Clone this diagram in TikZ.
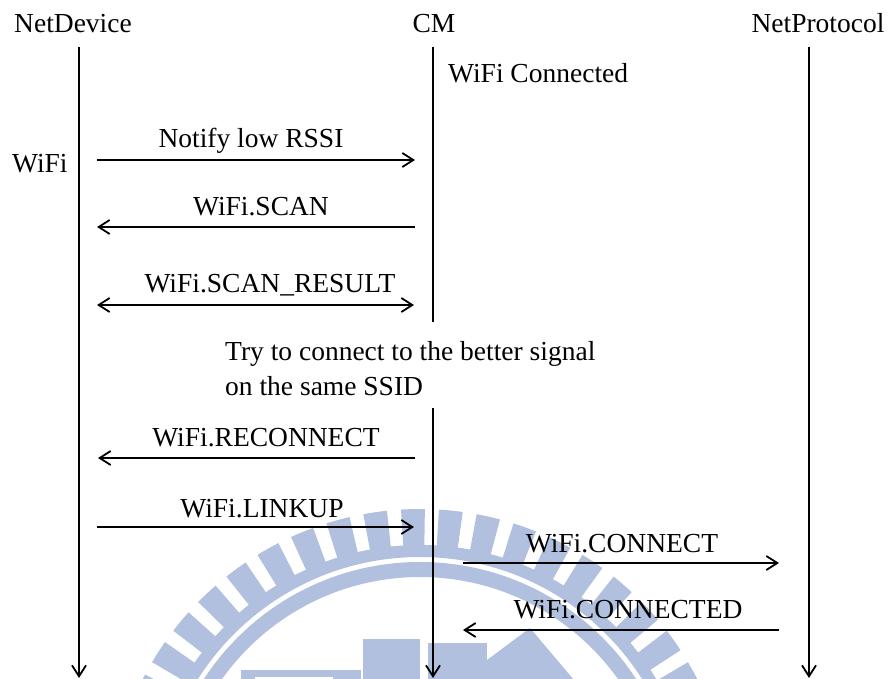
\documentclass[tikz,border=0pt]{standalone}
\usepackage{fontspec}
\setmainfont{Liberation Serif}
\usetikzlibrary{arrows.meta}
\definecolor{wmblue}{RGB}{176,192,222}
\begin{document}
\begin{tikzpicture}[x=1pt,y=1pt,
  barb/.tip={Straight Barb[length=11pt,width=14pt,line width=1.8pt]},
  life/.style={line width=1.8pt},
  lifeend/.style={line width=1.8pt,-barb},
  msg/.style={line width=2.3pt,-barb},
  msgboth/.style={line width=2.3pt,barb-barb},
  lbl/.style={inner sep=0pt,anchor=base,font=\fontsize{27.5}{33}\selectfont},
  lbll/.style={lbl,anchor=base west}]

\useasboundingbox (0,0) rectangle (891,-679);
\fill[white] (0,0) rectangle (891,-679);

% faint seal in the lower part of the page
\begin{scope}
  \clip (0,0) rectangle (891,-679);
  \begin{scope}[shift={(420,-820)}]
    \foreach \k in {-14,...,15}{
      \pgfmathsetmacro{\t}{91.3+7*\k}
      \fill[wmblue] ({\t-2.2}:274) arc[start angle={\t-2.2},end angle={\t+2.2},radius=274]
        -- ({\t+2.2}:311) arc[start angle={\t+2.2},end angle={\t-2.2},radius=311] -- cycle;
    }
    \fill[wmblue,even odd rule] (0,0) circle[radius=275] (0,0) circle[radius=263];
    \fill[wmblue,even odd rule] (0,0) circle[radius=258] (0,0) circle[radius=243];
  \end{scope}
  \fill[wmblue] (241,-670) rectangle (361,-680);
  \fill[white] (255,-677) rectangle (333,-681);
  \fill[wmblue] (363,-639) rectangle (420,-680);
  \fill[wmblue] (428,-643) rectangle (487,-680);
  \fill[wmblue] (487,-680) -- (487,-660) -- (530,-628) -- (574,-680) -- cycle;
\end{scope}

% participants
\node[lbl] (hnd) at (73,-33) {NetDevice};
\node[lbl] (hcm) at (434,-33) {CM};
\node[lbl] (hnp) at (818,-33) {NetProtocol};

% lifelines
\coordinate (ndtop) at (79,-47);
\coordinate (ndbot) at (79,-678);
\coordinate (cmtop) at (433,-47);
\coordinate (cmbrka) at (433,-322);
\coordinate (cmbrkb) at (433,-408);
\coordinate (cmbot) at (433,-678);
\coordinate (nptop) at (809,-47);
\coordinate (npbot) at (809,-678);
\draw[lifeend] (ndtop) -- (ndbot);
\draw[life] (cmtop) -- (cmbrka);
\draw[lifeend] (cmbrkb) -- (cmbot);
\draw[lifeend] (nptop) -- (npbot);

% notes
\node[lbll] (conn) at (448,-83) {WiFi Connected};
\node[lbll] (wifi) at (12,-173) {WiFi};
\node[lbll] (trya) at (225,-360) {Try to connect to the better signal};
\node[lbll] (tryb) at (225,-395) {on the same SSID};

% messages
\coordinate (m1a) at (97,-160);  \coordinate (m1b) at (415,-160);
\coordinate (m2a) at (415,-227); \coordinate (m2b) at (97,-227);
\coordinate (m3a) at (97,-305);  \coordinate (m3b) at (414,-305);
\coordinate (m4a) at (415,-458); \coordinate (m4b) at (98,-458);
\coordinate (m5a) at (97,-527);  \coordinate (m5b) at (414,-527);
\coordinate (m6a) at (463,-563); \coordinate (m6b) at (779,-563);
\coordinate (m7a) at (779,-630); \coordinate (m7b) at (463,-630);

\draw[msg] (m1a) -- (m1b);
\draw[msg] (m2a) -- (m2b);
\draw[msgboth] (m3a) -- (m3b);
\draw[msg] (m4a) -- (m4b);
\draw[msg] (m5a) -- (m5b);
\draw[msg] (m6a) -- (m6b);
\draw[msg] (m7a) -- (m7b);

\node[lbl] (l1) at (251,-148) {Notify low RSSI};
\node[lbl] (l2) at (261,-215) {WiFi.SCAN};
\node[lbl] (l3) at (270,-292) {WiFi.SCAN\_RESULT};
\node[lbl] (l4) at (266,-446) {WiFi.RECONNECT};
\node[lbl] (l5) at (262,-517) {WiFi.LINKUP};
\node[lbl] (l6) at (622,-552) {WiFi.CONNECT};
\node[lbl] (l7) at (628,-618) {WiFi.CONNECTED};
\end{tikzpicture}
\end{document}
